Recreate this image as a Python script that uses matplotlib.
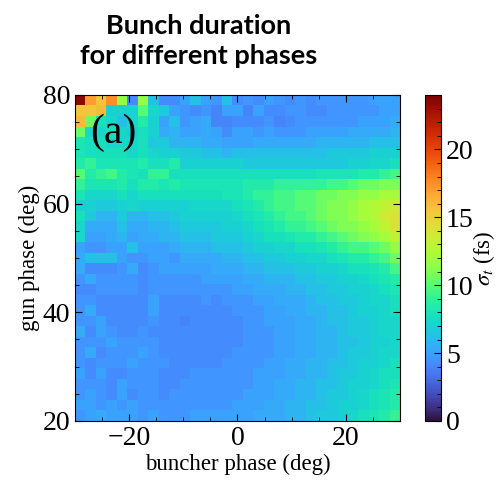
import numpy as np
import matplotlib.pyplot as plt
from matplotlib.ticker import MultipleLocator

# bunch duration sigma_t (fs); rows = gun phase 80 -> 20 deg, cols = buncher phase -30 -> 30 deg
buncher_phase = np.arange(-30, 31, 2)
gun_phase = np.arange(80, 19, -2)

sigma_t = [
    [23.5, 17, 15.5, 17.5, 11.5, 4.3, 11.5, 6.2, 4.3, 4.3, 5.1, 6.2, 5.1, 4.6, 6.2, 4.3, 4.6, 4.3, 5.1, 4.6, 4.3, 4.6, 4.3, 4.6, 4.6, 4.6, 4.6, 4.6, 5.1, 5.1, 5.1],
    [15.5, 15.5, 16, 7, 7, 7, 10, 7.3, 6.6, 5.1, 4.6, 4.3, 4.6, 4, 5.1, 5.1, 4, 5.1, 4.3, 4.3, 4.6, 4.6, 4.3, 4.3, 4.6, 4.6, 4.6, 4.6, 4.6, 5.1, 5.1],
    [16, 10.5, 7.7, 7.3, 6.2, 7.3, 8.5, 7, 5.1, 6.2, 4.6, 5.1, 5.4, 4, 4, 4.3, 4.3, 4.3, 4.6, 4, 4.3, 4.6, 4.6, 4.6, 4.6, 4.6, 4.6, 5.1, 5.1, 5.1, 5.4],
    [10.5, 7.3, 7.3, 7.7, 7.3, 7, 7.7, 7, 5.4, 5.8, 5.1, 5.1, 5.4, 5.1, 4.3, 5.1, 5.1, 4.6, 5.1, 4.6, 4.6, 4.6, 5.1, 5.1, 5.1, 5.1, 5.4, 5.4, 5.4, 5.4, 5.8],
    [8.1, 7.7, 7.7, 7.3, 7.3, 7.3, 7.7, 6.6, 6.6, 5.8, 5.8, 5.8, 5.4, 5.4, 5.1, 5.1, 5.1, 5.4, 5.4, 5.4, 5.4, 5.4, 5.4, 5.8, 5.8, 5.8, 5.8, 5.8, 6.2, 6.2, 6.2],
    [8.1, 7.7, 7.7, 7.7, 7.7, 7.3, 7.7, 7.3, 7, 7, 6.6, 6.6, 6.2, 6.2, 5.8, 6.2, 6.2, 6.2, 6.2, 6.2, 6.2, 6.2, 6.2, 6.2, 6.6, 6.6, 6.6, 6.6, 7, 7, 7],
    [8.5, 9, 8.1, 8.1, 8.1, 8.1, 8.5, 7.7, 7.7, 8.5, 7, 7, 7, 7, 7, 7, 6.6, 6.6, 6.6, 6.6, 6.6, 6.6, 6.6, 6.6, 6.6, 6.6, 7, 7, 7.3, 7.3, 7.7],
    [10, 8.5, 9, 9.5, 8.5, 8.1, 7.7, 9, 9, 7.7, 7.7, 7.7, 7.7, 7.7, 7.7, 7.7, 7.7, 7.7, 7.7, 7.7, 7.7, 7.7, 7.7, 8.1, 8.1, 8.1, 8.1, 8.5, 8.5, 9, 9.5],
    [9, 8.1, 8.1, 8.1, 8.5, 7.7, 8.5, 8.5, 8.1, 8.5, 8.1, 8.1, 8.1, 8.1, 8.1, 8.1, 8.5, 8.5, 8.5, 9, 9, 9, 9, 9, 9.5, 9.5, 10, 10.5, 10.5, 11, 11],
    [8.1, 7.3, 7.3, 7.3, 7.7, 7.3, 7.7, 7.7, 7.7, 7.7, 7.7, 7.7, 7.7, 7.7, 8.1, 8.1, 8.5, 9, 9, 9.5, 9.5, 10, 10, 10.5, 10.5, 11, 11, 11.5, 11.5, 12, 12],
    [7, 7, 6.6, 6.6, 7, 7.3, 7, 7, 7, 7, 7, 7.3, 7.3, 7.3, 7.3, 7.7, 8.1, 8.5, 9, 9.5, 9.5, 10, 10, 10.5, 11, 11, 11.5, 12, 12.5, 13, 13.5],
    [7.7, 6.6, 5.8, 5.8, 6.6, 5.8, 5.8, 6.2, 6.2, 6.6, 7, 7, 7, 7, 7, 7.3, 7.7, 8.1, 8.5, 9, 9.5, 9.5, 10, 10.5, 11, 11, 11.5, 12, 12.5, 13.5, 14],
    [7.3, 5.4, 5.4, 5.4, 6.2, 5.4, 5.4, 5.8, 5.8, 6.2, 6.6, 6.6, 6.6, 6.6, 7, 7, 7.3, 7.7, 8.1, 8.5, 9, 9, 9.5, 10, 10.5, 11, 11, 11.5, 12, 13, 14],
    [7.3, 5.1, 5.1, 5.4, 5.8, 5.1, 5.4, 5.4, 5.8, 5.8, 6.2, 6.2, 6.2, 6.6, 6.6, 6.6, 7, 7.3, 7.7, 7.7, 8.1, 8.5, 8.5, 9, 9.5, 10, 10.5, 11, 11.5, 12, 13],
    [5.1, 4.6, 4.6, 5.1, 5.1, 6.2, 5.1, 5.1, 5.1, 5.4, 5.8, 5.8, 5.8, 6.2, 6.2, 6.2, 6.6, 7, 7, 7.3, 7.3, 7.7, 7.7, 8.1, 8.5, 9, 9.5, 9.5, 10, 10.5, 11.5],
    [5.4, 6.2, 6.2, 6.2, 5.1, 4.6, 4.6, 5.1, 5.1, 4.6, 5.4, 5.4, 5.4, 5.4, 5.8, 5.8, 6.2, 6.2, 6.6, 6.6, 7, 7, 7.3, 7.3, 7.7, 8.1, 8.5, 8.5, 9, 9.5, 10.5],
    [5.4, 4.3, 4.3, 4.3, 4.6, 5.4, 4.3, 4.6, 5.1, 5.1, 5.1, 5.1, 5.1, 5.4, 5.4, 5.4, 5.8, 5.8, 6.2, 6.2, 6.2, 6.6, 6.6, 7, 7, 7.3, 7.7, 7.7, 8.1, 8.5, 9.5],
    [4.6, 5.4, 4.6, 4.6, 4.6, 4.6, 4.3, 4.6, 4.6, 4.6, 4.6, 4.6, 5.1, 5.1, 5.1, 5.1, 5.4, 5.4, 5.8, 5.8, 5.8, 6.2, 6.2, 6.6, 6.6, 7, 7, 7.3, 7.7, 8.1, 8.5],
    [4.3, 4.3, 4.6, 4.6, 4.6, 4.6, 4.3, 4.6, 4.6, 4.6, 4.6, 4.6, 4.6, 4.6, 4.6, 5.1, 5.1, 5.4, 5.4, 5.4, 5.8, 5.8, 6.2, 6.2, 6.6, 6.6, 7, 7, 7.3, 7.7, 8.1],
    [4.6, 4.6, 4.3, 4.3, 4.3, 4.3, 4.3, 5.1, 4.3, 4.3, 4.3, 4.3, 4.6, 4.3, 4.6, 4.6, 4.6, 5.1, 5.1, 5.4, 5.4, 5.4, 5.8, 6.2, 6.2, 6.6, 6.6, 7, 7.3, 7.3, 7.7],
    [4.6, 5.4, 4.3, 4.3, 4.3, 4.3, 4.3, 5.1, 4.3, 4.3, 4.3, 4.3, 4.3, 4.3, 4.3, 4.6, 4.6, 4.6, 5.1, 5.1, 5.4, 5.4, 5.8, 5.8, 6.2, 6.2, 6.6, 7, 7, 7.3, 7.7],
    [4.6, 4.6, 5.1, 4.3, 4.3, 4.3, 4.3, 4.6, 4.3, 4.3, 4, 4.3, 4.3, 4.3, 4.3, 4.3, 4.6, 4.6, 5.1, 5.1, 5.1, 5.4, 5.4, 5.8, 6.2, 6.2, 6.6, 6.6, 7, 7.3, 7.3],
    [5.4, 4.3, 5.1, 4.6, 4.3, 4.3, 4.6, 4.3, 4.3, 4.3, 4.3, 4.3, 4.3, 4.3, 4.3, 4.3, 4.6, 4.6, 4.6, 5.1, 5.1, 5.4, 5.4, 5.8, 5.8, 6.2, 6.6, 6.6, 7, 7.3, 7.3],
    [4.6, 4.6, 4.6, 5.1, 4.6, 4.6, 4.6, 4.6, 4.3, 4.3, 4.3, 4.3, 4.3, 4.3, 4.3, 4.3, 4.6, 4.6, 4.6, 5.1, 5.1, 5.4, 5.4, 5.8, 5.8, 6.2, 6.2, 6.6, 7, 7, 7.3],
    [4.6, 5.4, 4.3, 4.6, 4.6, 4.6, 5.1, 4.6, 4.3, 4.3, 4.3, 4.3, 4.3, 4.3, 4.3, 4.6, 4.6, 4.6, 4.6, 5.1, 5.1, 5.4, 5.4, 5.8, 5.8, 6.2, 6.6, 6.6, 7, 7.3, 7.3],
    [4.6, 4.3, 4.6, 4.6, 4.6, 5.1, 4.6, 4.6, 4.6, 4.3, 4.3, 4.3, 4.3, 4.3, 4.6, 4.6, 4.6, 4.6, 5.1, 5.1, 5.4, 5.4, 5.8, 5.8, 6.2, 6.2, 6.6, 7, 7, 7.3, 7.7],
    [5.1, 4.3, 5.1, 4.3, 4.3, 4.6, 4.6, 4.6, 4.3, 4.3, 4.3, 4.6, 4.6, 4.6, 4.6, 4.6, 4.6, 5.1, 5.1, 5.1, 5.4, 5.4, 5.8, 5.8, 6.2, 6.6, 6.6, 7, 7.3, 7.7, 7.7],
    [4.6, 4.6, 4.6, 4.3, 5.1, 4.6, 4.6, 4.6, 4.3, 4.3, 4.6, 4.6, 4.6, 4.6, 4.6, 4.6, 4.6, 5.1, 5.1, 5.4, 5.4, 5.8, 5.8, 6.2, 6.2, 6.6, 7, 7, 7.3, 7.7, 8.1],
    [4.6, 5.1, 4.6, 4.3, 5.1, 4.3, 4.6, 4.6, 4.3, 4.6, 4.6, 4.6, 4.6, 4.6, 4.6, 4.6, 5.1, 5.1, 5.1, 5.4, 5.4, 5.8, 5.8, 6.2, 6.6, 6.6, 7, 7.3, 7.7, 8.1, 8.5],
    [5.1, 5.1, 4.6, 5.1, 4.6, 5.1, 4.6, 4.6, 4.6, 4.6, 4.6, 4.6, 4.6, 4.6, 4.6, 5.1, 5.1, 5.1, 5.4, 5.4, 5.8, 5.8, 6.2, 6.2, 6.6, 7, 7, 7.3, 7.7, 8.1, 8.5],
    [4.6, 5.1, 5.4, 5.1, 5.1, 5.1, 4.6, 5.1, 4.6, 4.6, 4.6, 5.1, 5.1, 5.1, 5.1, 5.1, 5.1, 5.4, 5.4, 5.4, 5.8, 5.8, 6.2, 6.6, 6.6, 7, 7.3, 7.7, 8.1, 8.5, 9],
]
sigma_t = np.array(sigma_t)

plt.rcParams['font.family'] = 'Liberation Serif'
plt.rcParams['mathtext.fontset'] = 'stix'

fig = plt.figure(figsize=(5.02, 4.8), dpi=100)
ax = fig.add_axes([75 / 502, 1 - 421 / 480, 325 / 502, 326 / 480])

im = ax.imshow(sigma_t, cmap='turbo', vmin=0, vmax=24, aspect='auto',
               extent=[buncher_phase[0], buncher_phase[-1], gun_phase[-1], gun_phase[0]],
               interpolation='nearest')

ax.set_xlim(-30, 30)
ax.set_ylim(20, 80)
ax.xaxis.set_major_locator(MultipleLocator(20))
ax.xaxis.set_minor_locator(MultipleLocator(5))
ax.yaxis.set_major_locator(MultipleLocator(20))
ax.yaxis.set_minor_locator(MultipleLocator(5))
ax.tick_params(which='both', direction='in', top=True, right=True, labelsize=20)
ax.tick_params(which='major', length=5)
ax.tick_params(which='minor', length=3)
ax.set_xlabel('buncher phase (deg)', fontsize=16.5, labelpad=2)
ax.set_ylabel('gun phase (deg)', fontsize=16.5, labelpad=2)

ax.text(-23, 73, '(a)', fontsize=30, ha='center', va='center')

cax = fig.add_axes([425 / 502, 1 - 421 / 480, 16 / 502, 326 / 480])
cb = fig.colorbar(im, cax=cax)
cb.set_ticks([0, 5, 10, 15, 20])
cb.ax.yaxis.set_minor_locator(MultipleLocator(1))
cb.ax.tick_params(which='both', direction='in', labelsize=20)
cb.ax.tick_params(which='major', length=5)
cb.ax.tick_params(which='minor', length=3)
cb.set_label(r'$\sigma_t$ (fs)', fontsize=16.5)
cb.ax.yaxis.set_label_coords(2.85, 0.5)

fig.text(199 / 502, 1 - 41 / 480, 'Bunch duration\nfor different phases',
         ha='center', va='center', fontsize=19.5, fontweight='bold',
         family='Lato', linespacing=1.35)

fig.savefig('out.png', dpi=100)
